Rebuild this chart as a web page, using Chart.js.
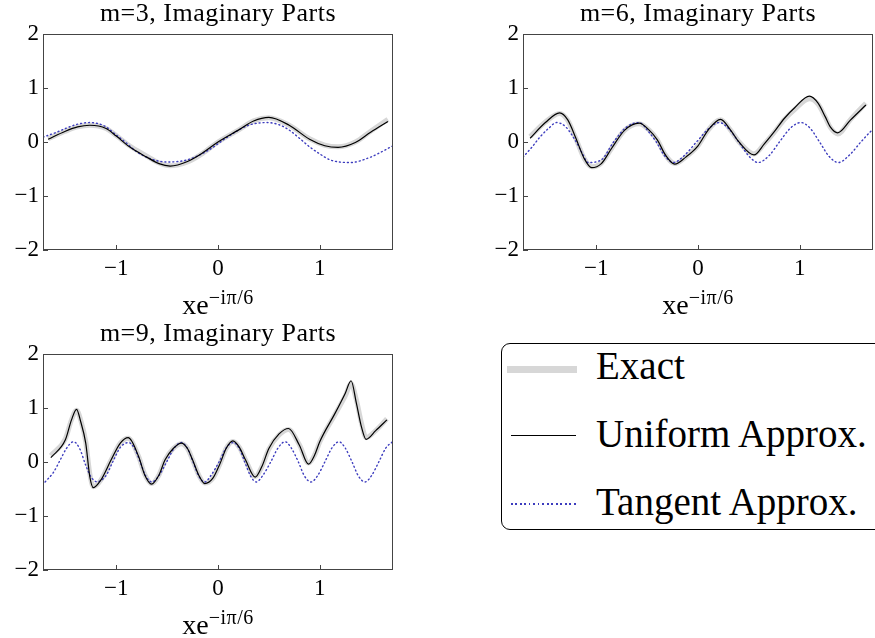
<!DOCTYPE html>
<html>
<head>
<meta charset="utf-8">
<script src="https://cdn.jsdelivr.net/npm/chart.js@4.4.1/dist/chart.umd.min.js"></script>
<style>
  body { margin: 0; background: #fff; overflow: hidden; font-family: "Liberation Serif", serif; }
  .panel { position: absolute; width: 400px; height: 300px; }
  .title { position: absolute; width: 350px; text-align: center; font-size: 26px; line-height: 26px; letter-spacing: 0.5px; color: #000; }
  .xlab { position: absolute; width: 350px; text-align: center; font-size: 28px; line-height: 28px; color: #000; }
  .xlab span { position: relative; top: -10px; font-size: 20px; letter-spacing: 0.5px; }
  #legend { position: absolute; left: 501px; top: 343px; width: 390px; height: 187px; border: 1.5px solid #000; border-radius: 9px; box-sizing: border-box; }
  #legend .txt { position: absolute; left: 94px; font-size: 39px; line-height: 39px; white-space: nowrap; color: #000; }
  #legend .smp { position: absolute; }
</style>
</head>
<body>

<div class="panel" style="left:0;top:0"><canvas id="c1"></canvas></div>
<div class="panel" style="left:480px;top:0;width:395px"><canvas id="c2"></canvas></div>
<div class="panel" style="left:0;top:320px"><canvas id="c3"></canvas></div>

<div class="title" style="left:43px;top:0px">m=3, Imaginary Parts</div>
<div class="title" style="left:523px;top:0px">m=6, Imaginary Parts</div>
<div class="title" style="left:43px;top:320px">m=9, Imaginary Parts</div>

<div class="xlab" style="left:43px;top:291px">xe<span>−iπ/6</span></div>
<div class="xlab" style="left:523px;top:291px">xe<span>−iπ/6</span></div>
<div class="xlab" style="left:43px;top:611px">xe<span>−iπ/6</span></div>

<div id="legend">
  <div class="smp" style="left:5px;top:22px;width:70px;height:7px;background:rgb(215,215,215)"></div>
  <div class="txt" style="top:2px">Exact</div>
  <div class="smp" style="left:9px;top:91px;width:65px;border-top:1.2px solid #000"></div>
  <div class="txt" style="top:70px">Uniform Approx.</div>
  <div class="smp" style="left:9px;top:159px;width:66px;height:1.5px;background:repeating-linear-gradient(to right, rgb(60,60,190) 0 1.5px, transparent 1.5px 4.5px)"></div>
  <div class="txt" style="top:138px">Tangent Approx.</div>
</div>

<script>
// axis ticks
var xTicks = [-1, 0, 1];
var yTicks = [-2, -1, 0, 1, 2];
var xMin = -1.72, xMax = 1.72;

// m=3
var m3X       = [-1.67,-1.5,-1.38,-1.26,-1.1,-1.0,-0.87,-0.7,-0.58,-0.47,-0.3,-0.15,0,0.2,0.35,0.5,0.7,0.9,1.05,1.18,1.35,1.5,1.67];
var m3Uniform = [0.05,0.2,0.28,0.31,0.25,0.11,-0.09,-0.28,-0.4,-0.445,-0.36,-0.2,0,0.22,0.39,0.457,0.31,0.05,-0.07,-0.1,-0.01,0.18,0.38];
var m3Exact   = [0.06,0.2,0.28,0.31,0.25,0.12,-0.07,-0.26,-0.39,-0.44,-0.37,-0.21,0,0.22,0.39,0.45,0.31,0.06,-0.06,-0.09,0.0,0.2,0.42];
var m3TanX    = [-1.72,-1.6,-1.5,-1.38,-1.26,-1.12,-1.0,-0.9,-0.8,-0.65,-0.5,-0.3,-0.1,0.1,0.3,0.48,0.6,0.7,0.8,0.9,1.0,1.1,1.3,1.5,1.6,1.72];
var m3Tangent = [0.09,0.17,0.25,0.33,0.36,0.3,0.13,-0.02,-0.18,-0.32,-0.37,-0.33,-0.16,0.1,0.31,0.36,0.32,0.22,0.07,-0.09,-0.22,-0.33,-0.38,-0.28,-0.19,-0.07];

// m=6
var m6X       = [-1.65,-1.5,-1.36,-1.28,-1.2,-1.12,-1.045,-0.95,-0.85,-0.72,-0.578,-0.48,-0.4,-0.32,-0.228,-0.12,0,0.1,0.222,0.32,0.4,0.55,0.65,0.75,0.85,0.95,1.095,1.18,1.25,1.3,1.373,1.5,1.65];
var m6Uniform = [0.07,0.36,0.54,0.41,0.07,-0.3,-0.475,-0.4,-0.12,0.22,0.35,0.22,0.04,-0.24,-0.41,-0.28,-0.07,0.22,0.42,0.22,0.006,-0.24,-0.04,0.19,0.44,0.635,0.85,0.72,0.47,0.28,0.17,0.41,0.685];
var m6Exact   = [0.1,0.37,0.53,0.4,0.06,-0.3,-0.46,-0.39,-0.12,0.22,0.34,0.22,0.04,-0.24,-0.4,-0.28,-0.07,0.22,0.41,0.22,0.01,-0.22,-0.04,0.18,0.42,0.6,0.8,0.7,0.46,0.27,0.15,0.42,0.72];
var m6TanX    = [-1.72,-1.63,-1.55,-1.47,-1.39,-1.3,-1.2,-1.14,-1.08,-0.95,-0.83,-0.7,-0.578,-0.49,-0.41,-0.33,-0.24,-0.14,-0.015,0.1,0.21,0.3,0.4,0.5,0.59,0.7,0.8,0.91,1.01,1.1,1.195,1.29,1.38,1.5,1.6,1.716];
var m6Tangent = [-0.28,-0.09,0.1,0.25,0.36,0.28,0.01,-0.2,-0.38,-0.33,0,0.28,0.36,0.2,0,-0.25,-0.38,-0.26,0,0.24,0.36,0.25,0,-0.26,-0.38,-0.25,0,0.26,0.36,0.26,0,-0.27,-0.38,-0.22,0,0.235];

// m=9
var m9X       = [-1.643,-1.5,-1.44,-1.39,-1.35,-1.3,-1.26,-1.225,-1.15,-1.05,-0.96,-0.882,-0.78,-0.72,-0.653,-0.58,-0.52,-0.44,-0.36,-0.3,-0.25,-0.19,-0.13,-0.05,0.02,0.08,0.147,0.21,0.27,0.366,0.43,0.5,0.6,0.693,0.8,0.889,0.95,1.0,1.15,1.25,1.308,1.36,1.41,1.455,1.55,1.66];
var m9Uniform = [0.08,0.41,0.78,0.975,0.75,0.35,-0.27,-0.475,-0.33,0.04,0.35,0.45,0.1,-0.24,-0.41,-0.24,0.04,0.25,0.35,0.25,0.04,-0.24,-0.4,-0.3,-0.03,0.25,0.39,0.27,0.04,-0.28,-0.09,0.25,0.52,0.62,0.31,-0.04,0.13,0.375,0.9,1.27,1.505,1.09,0.65,0.42,0.58,0.78];
var m9Exact   = [0.12,0.43,0.78,0.96,0.78,0.38,-0.22,-0.46,-0.33,0.04,0.35,0.44,0.1,-0.23,-0.4,-0.24,0.04,0.25,0.34,0.25,0.04,-0.24,-0.39,-0.3,-0.03,0.25,0.38,0.27,0.04,-0.27,-0.09,0.24,0.5,0.6,0.32,-0.02,0.13,0.37,0.88,1.22,1.45,1.15,0.72,0.45,0.58,0.8];
var m9TanX    = [-1.7,-1.62,-1.55,-1.49,-1.42,-1.36,-1.3,-1.25,-1.19,-1.1,-1.035,-0.96,-0.88,-0.82,-0.765,-0.71,-0.65,-0.58,-0.505,-0.43,-0.36,-0.3,-0.245,-0.19,-0.13,-0.07,0.01,0.08,0.15,0.21,0.263,0.32,0.376,0.44,0.518,0.59,0.66,0.72,0.79,0.85,0.915,0.98,1.05,1.12,1.19,1.25,1.318,1.38,1.445,1.51,1.58,1.65,1.716];
var m9Tangent = [-0.37,-0.2,0.04,0.25,0.375,0.25,-0.06,-0.27,-0.365,-0.25,0,0.27,0.36,0.25,0,-0.26,-0.37,-0.25,0,0.26,0.36,0.25,0,-0.26,-0.37,-0.25,0,0.26,0.36,0.25,0,-0.26,-0.37,-0.25,0,0.26,0.375,0.26,0,-0.26,-0.37,-0.25,0,0.26,0.375,0.26,0,-0.26,-0.37,-0.25,0,0.26,0.375];

function pts(xs, ys) {
    return xs.map((x, i) => ({ x: x, y: ys[i] }));
}

// frame round the plot plus inward ticks
const framePlugin = {
    id: 'frame',
    afterDatasetsDraw(chart) {
        const { ctx, chartArea: a, scales } = chart;
        ctx.save();
        ctx.strokeStyle = '#444';
        ctx.lineWidth = 1;
        ctx.strokeRect(a.left + 0.5, a.top + 0.5, a.right - a.left - 1, a.bottom - a.top - 1);
        ctx.beginPath();
        xTicks.forEach(v => {
            const px = Math.round(scales.x.getPixelForValue(v)) + 0.5;
            ctx.moveTo(px, a.bottom);
            ctx.lineTo(px, a.bottom - 5);
        });
        yTicks.forEach(v => {
            const py = Math.round(scales.y.getPixelForValue(v)) + 0.5;
            ctx.moveTo(a.left, py);
            ctx.lineTo(a.left + 5, py);
        });
        ctx.stroke();
        ctx.restore();
    }
};

function makeChart(id, rightPad, xs, uniform, exact, tanX, tangent) {
    const data = {
        datasets: [{
            label: 'Uniform Approx.',
            data: pts(xs, uniform),
            borderColor: '#000',
            borderWidth: 1.2,
            order: 0
        }, {
            label: 'Tangent Approx.',
            data: pts(tanX, tangent),
            borderColor: 'rgb(60, 60, 190)',
            borderWidth: 1.4,
            borderDash: [1, 3],
            borderCapStyle: 'round',
            order: 1
        }, {
            label: 'Exact',
            data: pts(xs, exact),
            borderColor: 'rgb(215, 215, 215)',
            borderWidth: 5,
            order: 2
        }]
    };

    const config = {
        type: 'line',
        data: data,
        options: {
            responsive: false,
            animation: false,
            events: [],
            layout: { padding: { left: 0, top: 34, right: rightPad, bottom: 0 } },
            elements: {
                point: { radius: 0 },
                line: { cubicInterpolationMode: 'monotone', fill: false }
            },
            plugins: { legend: { display: false }, tooltip: { enabled: false }, title: { display: false } },
            scales: {
                x: {
                    type: 'linear',
                    min: xMin,
                    max: xMax,
                    grid: { display: false, drawTicks: false },
                    border: { display: false },
                    afterBuildTicks: s => { s.ticks = xTicks.map(v => ({ value: v })); },
                    afterFit: s => { s.height = 50; },
                    ticks: {
                        padding: 5,
                        color: '#000',
                        font: { family: 'Liberation Serif', size: 23 },
                        callback: v => String(v).replace('-', '\u2212')
                    }
                },
                y: {
                    min: -2,
                    max: 2,
                    grid: { display: false, drawTicks: false },
                    border: { display: false },
                    afterBuildTicks: s => { s.ticks = yTicks.map(v => ({ value: v })); },
                    afterFit: s => { s.width = 43; },
                    ticks: {
                        padding: 4,
                        color: '#000',
                        font: { family: 'Liberation Serif', size: 23 },
                        callback: v => String(v).replace('-', '\u2212')
                    }
                }
            }
        },
        plugins: [framePlugin]
    };

    const canvas = document.getElementById(id);
    canvas.width = canvas.parentNode.clientWidth;
    canvas.height = 300;
    return new Chart(canvas, config);
}

makeChart('c1', 7, m3X, m3Uniform, m3Exact, m3TanX, m3Tangent);
makeChart('c2', 2, m6X, m6Uniform, m6Exact, m6TanX, m6Tangent);
makeChart('c3', 7, m9X, m9Uniform, m9Exact, m9TanX, m9Tangent);
</script>
</body>
</html>
